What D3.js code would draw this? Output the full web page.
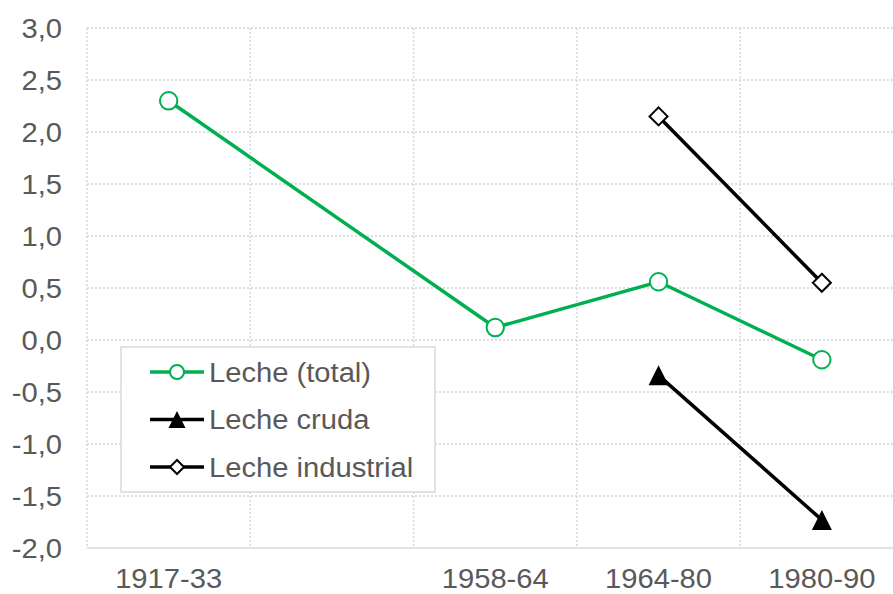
<!DOCTYPE html>
<html>
<head>
<meta charset="utf-8">
<script src="https://cdn.jsdelivr.net/npm/d3@7"></script>
<style>
  body { margin: 0; background: #fff; }
  text { font-family: "Liberation Sans", Arial, sans-serif; fill: #595959; }
</style>
</head>
<body>
<div id="chart-area"></div>
<script>
// categories (the second slot is an empty period in the original)
var periods = ["1917-33", "", "1958-64", "1964-80", "1980-90"];
var lecheTotal = [2.3, null, 0.12, 0.56, -0.19];
var lecheCruda = [null, null, null, -0.34, -1.73];
var lecheIndustrial = [null, null, null, 2.15, 0.55];
var yTicks = [-2.0, -1.5, -1.0, -0.5, 0.0, 0.5, 1.0, 1.5, 2.0, 2.5, 3.0];
var seriesNames = ["Leche (total)", "Leche cruda", "Leche industrial"];

var W = 893, H = 594;
var plotLeft = 87, plotTop = 28, plotBottom = 548;
var band = 163.3;
var stretch = 1.08; // text in the picture is a bit wider than Liberation Sans
var fontSize = "27px";

var svg = d3.select("#chart-area").append("svg")
    .attr("width", W)
    .attr("height", H);

var x = d3.scaleBand()
    .domain(periods)
    .range([plotLeft, plotLeft + band * periods.length]);

var y = d3.scaleLinear()
    .domain([-2, 3])
    .range([plotBottom, plotTop]);

var cx = function(i) { return x(periods[i]) + x.bandwidth() / 2; };

// grid
var grid = svg.append("g");
grid.selectAll(".hgrid")
    .data(yTicks.filter(function(d) { return d > -2; }))
    .enter().append("line")
        .attr("x1", plotLeft).attr("x2", W)
        .attr("y1", function(d) { return y(d); })
        .attr("y2", function(d) { return y(d); })
        .attr("stroke", "#d4d4d4")
        .attr("stroke-width", 1.4)
        .attr("stroke-dasharray", "2,2");

grid.selectAll(".vgrid")
    .data(periods)
    .enter().append("line")
        .attr("x1", function(d) { return x(d); })
        .attr("x2", function(d) { return x(d); })
        .attr("y1", plotTop).attr("y2", plotBottom)
        .attr("stroke", "#d4d4d4")
        .attr("stroke-width", 1.4)
        .attr("stroke-dasharray", "2,2");

// x axis line
svg.append("line")
    .attr("x1", plotLeft).attr("x2", W)
    .attr("y1", y(-2)).attr("y2", y(-2))
    .attr("stroke", "#d9d9d9")
    .attr("stroke-width", 1.5);

// y tick labels
var fmt = function(d) { return d3.format(".1f")(d).replace(".", ",").replace("−", "-"); };
svg.selectAll(".ylab")
    .data(yTicks)
    .enter().append("text")
        .attr("text-anchor", "end")
        .attr("font-size", fontSize)
        .attr("dy", "0.36em")
        .attr("transform", function(d) { return "translate(62," + y(d) + ") scale(" + stretch + ",1)"; })
        .text(fmt);

// x tick labels
svg.selectAll(".xlab")
    .data(periods)
    .enter().append("text")
        .attr("text-anchor", "middle")
        .attr("font-size", fontSize)
        .attr("transform", function(d, i) { return "translate(" + cx(i) + ",588) scale(" + stretch + ",1)"; })
        .text(function(d) { return d; });

// series
var green = "#00b050";
var line = d3.line()
    .defined(function(d) { return d.v !== null; })
    .x(function(d) { return cx(d.i); })
    .y(function(d) { return y(d.v); });

function pts(arr) {
    return arr.map(function(v, i) { return { i: i, v: v }; });
}
// total line skips the empty period
function ptsTotal(arr) {
    return pts(arr).filter(function(d) { return d.v !== null; });
}

svg.append("path")
    .datum(ptsTotal(lecheTotal))
    .attr("d", line)
    .attr("fill", "none")
    .attr("stroke", green)
    .attr("stroke-width", 3.5);

svg.append("path")
    .datum(pts(lecheCruda))
    .attr("d", line)
    .attr("fill", "none")
    .attr("stroke", "#000")
    .attr("stroke-width", 3.5);

svg.append("path")
    .datum(pts(lecheIndustrial))
    .attr("d", line)
    .attr("fill", "none")
    .attr("stroke", "#000")
    .attr("stroke-width", 3.5);

svg.selectAll(".mTotal")
    .data(ptsTotal(lecheTotal))
    .enter().append("circle")
        .attr("cx", function(d) { return cx(d.i); })
        .attr("cy", function(d) { return y(d.v); })
        .attr("r", 8.7)
        .attr("fill", "#fff")
        .attr("stroke", green)
        .attr("stroke-width", 2);

// triangle drawn as a path centred on its bounding box
function triangle(s) {
    return "M0," + (-s / 2) + "L" + (s / 2) + "," + (s / 2) + "L" + (-s / 2) + "," + (s / 2) + "Z";
}
function diamond(s) {
    return "M0," + (-s / 2) + "L" + (s / 2) + ",0L0," + (s / 2) + "L" + (-s / 2) + ",0Z";
}

svg.selectAll(".mCruda")
    .data(pts(lecheCruda).filter(function(d) { return d.v !== null; }))
    .enter().append("path")
        .attr("d", triangle(20))
        .attr("transform", function(d) { return "translate(" + cx(d.i) + "," + y(d.v) + ")"; })
        .attr("fill", "#000");

svg.selectAll(".mInd")
    .data(pts(lecheIndustrial).filter(function(d) { return d.v !== null; }))
    .enter().append("path")
        .attr("d", diamond(18))
        .attr("transform", function(d) { return "translate(" + cx(d.i) + "," + y(d.v) + ")"; })
        .attr("fill", "#fff")
        .attr("stroke", "#000")
        .attr("stroke-width", 2);

// legend
var legend = svg.append("g").attr("transform", "translate(121,347)");
legend.append("rect")
    .attr("width", 314).attr("height", 145)
    .attr("fill", "#fff")
    .attr("stroke", "#d9d9d9")
    .attr("stroke-width", 1.5);

var rows = legend.selectAll(".row")
    .data(seriesNames)
    .enter().append("g")
        .attr("transform", function(d, i) { return "translate(0," + (25 + i * 47.5) + ")"; });

rows.append("line")
    .attr("x1", 29).attr("x2", 83)
    .attr("stroke", function(d, i) { return i === 0 ? green : "#000"; })
    .attr("stroke-width", 3.5);

rows.each(function(d, i) {
    var g = d3.select(this);
    if (i === 0) {
        g.append("circle").attr("cx", 56).attr("r", 7)
            .attr("fill", "#fff").attr("stroke", green).attr("stroke-width", 2);
    } else if (i === 1) {
        g.append("path").attr("d", triangle(17)).attr("transform", "translate(56,0)").attr("fill", "#000");
    } else {
        g.append("path").attr("d", diamond(14)).attr("transform", "translate(56,0)")
            .attr("fill", "#fff").attr("stroke", "#000").attr("stroke-width", 2);
    }
});

rows.append("text")
    .attr("font-size", fontSize)
    .attr("dy", "0.36em")
    .attr("transform", "translate(88,0) scale(" + stretch + ",1)")
    .text(function(d) { return d; });
</script>
</body>
</html>
